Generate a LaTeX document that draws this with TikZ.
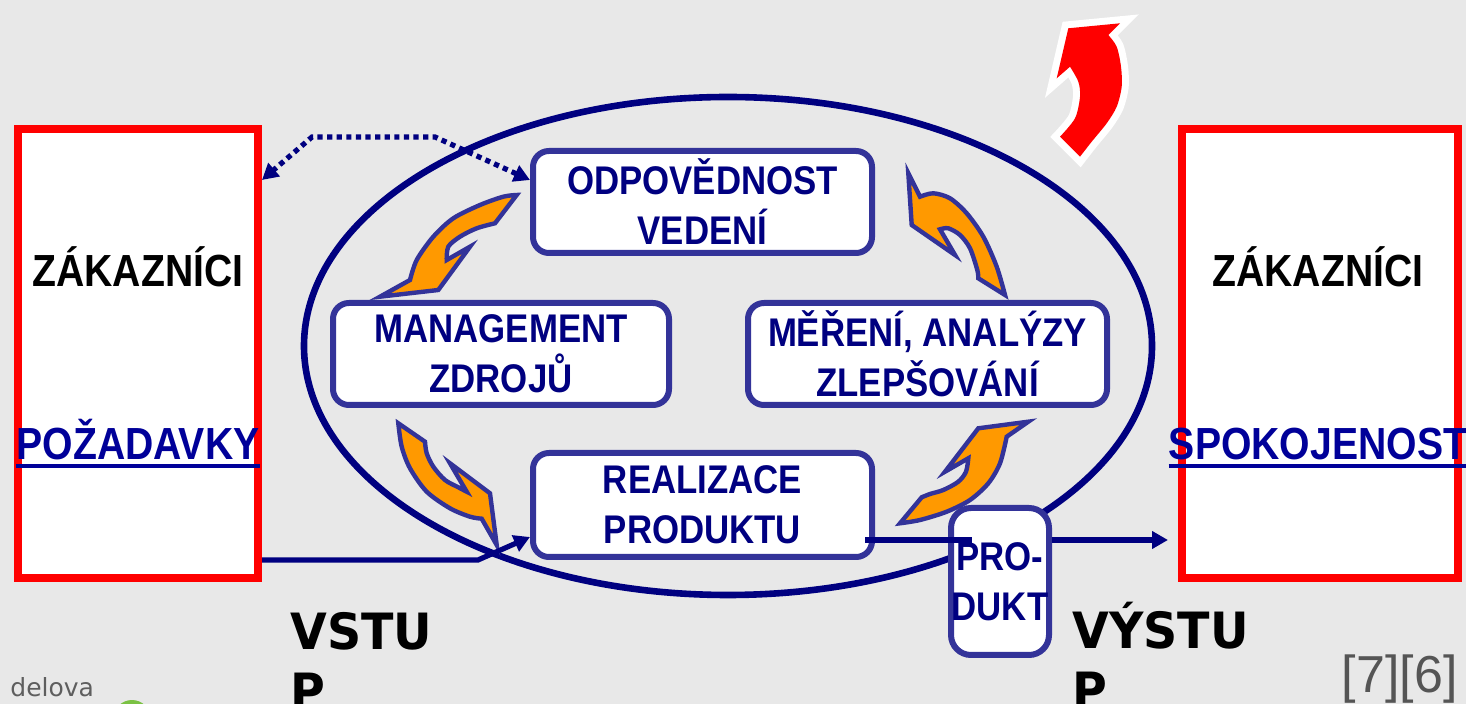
\documentclass[tikz,border=0pt]{standalone}
\usepackage{fontspec}
\setmainfont{Liberation Sans}
\newfontfamily\narrowsans[FakeStretch=0.87]{Liberation Sans}
\newfontfamily\blacksans[FakeStretch=0.95]{DejaVu Sans}
\newfontfamily\logosans{DejaVu Sans}
\usepackage{xcolor}
\usetikzlibrary{positioning, arrows.meta}

\definecolor{bg}{HTML}{E8E8E8}
\definecolor{navy}{HTML}{000080}
\definecolor{boxline}{HTML}{333399}
\definecolor{linkblue}{HTML}{000099}
\definecolor{turnfill}{HTML}{FF9900}
\definecolor{citegray}{HTML}{555555}
\definecolor{logogray}{HTML}{5E5E5E}
\definecolor{logogreen}{HTML}{7AC143}

\begin{document}
\begin{tikzpicture}[x=0.5pt, y=-0.5pt,
                  >={Triangle[length=8pt,width=8.5pt]},
                  stage/.style={rectangle,rounded corners=8pt,draw=boxline,line width=3pt,fill=white,
                    text=navy,align=center,inner sep=0pt,
                    font=\narrowsans\bfseries\fontsize{20pt}{25pt}\selectfont},
                  party/.style={rectangle,draw=red,line width=4pt,fill=white,
                    minimum height=224.5pt},
                  partytext/.style={inner sep=0pt,anchor=base,
                    font=\narrowsans\bfseries\fontsize{22.5pt}{27pt}\selectfont},
                  iotext/.style={inner sep=0pt,anchor=north west,align=left,
                    font=\blacksans\bfseries\fontsize{25pt}{30pt}\selectfont},
                  flow/.style={draw=navy,line width=2.6pt},
                  feedback/.style={<->,draw=navy,line width=2.6pt,dash pattern=on 2.6pt off 2.2pt},
                  turn/.style={fill=turnfill,draw=boxline,line width=2.2pt,line join=miter}
                  ]
  \useasboundingbox (0,0) rectangle (1466,704);
  \clip (0,0) rectangle (1466,704);
  \fill[bg] (0,0) rectangle (1466,704);

  \draw[navy, line width=3.3pt] (728,346) ellipse [x radius=424, y radius=249];

  \node[party, minimum width=120pt] (zakL) at (138,353.5) {};
  \node[party, minimum width=138pt] (zakR) at (1320,353.5) {};

  \node[stage, minimum width=169.5pt, minimum height=51pt] (odp) at (702.5,202) {ODPOVĚDNOST\\VEDENÍ};
  \node[stage, minimum width=169.5pt, minimum height=52pt, below=97pt of odp] (real) {REALIZACE\\PRODUKTU};
  \node[stage, minimum width=168pt, minimum height=51pt] (mgmt) at (501,354) {MANAGEMENT\\ZDROJŮ};
  \node[stage, minimum width=179.5pt, minimum height=51pt] (mer) at (927.5,354) {MĚŘENÍ, ANALÝZY\\ZLEPŠOVÁNÍ};
  \node[stage, minimum width=49pt, minimum height=73.5pt, rounded corners=10pt] (prod) at (1000,581.5) {PRO-\\DUKT};

  \filldraw[turn] plot[smooth] coordinates {(516.7,195) (503.3,196.7) (480,205) (453.3,218.3) (433.3,236.7) (416.7,260) (410,280)}
    -- (380,296.7) -- (438.3,290) -- (470,246.7) -- (446.7,260)
    -- plot[smooth] coordinates {(446.7,260) (448.3,246.7) (460,236.7) (476.7,228.3) (495,223.3)} -- cycle;
  \filldraw[turn] plot[smooth] coordinates {(398.3,423.3) (401.7,446.7) (410,468.3) (426.7,491.7) (450,508.3) (470,516.7) (481.7,518.7)}
    -- (496.7,545) -- (490,493.3) -- (450,463.3) -- (466.7,491.7)
    -- plot[smooth] coordinates {(466.7,491.7) (458.3,487.3) (445,480) (433.3,466.7) (426.7,453.3) (425,441.7)} -- cycle;
  \filldraw[turn] plot[smooth] coordinates {(900,523.3) (920,520) (946.7,511.7) (970,500) (988.3,483.3) (1000,463.3) (1006.7,436.7)}
    -- (1028.3,421.7) -- (978.3,428.3) -- (945,471.7) -- (968.3,458.3)
    -- plot[smooth] coordinates {(968.3,458.3) (966,471.7) (958.3,481.7) (943.3,490) (930,494) (921.7,497.3)} -- cycle;
  \filldraw[turn] plot[smooth] coordinates {(1005,295) (996.7,266.7) (983.3,236.7) (966.7,213.3) (950,198.3) (933.3,193.3) (920,196.7)}
    -- (908.3,173.3) -- (911.7,225) -- (955,255) -- (940,229.3)
    -- plot[smooth] coordinates {(940,229.3) (948.3,228.3) (960,235) (970,248.3) (977.3,270) (978.3,278.3)} -- cycle;

  \draw[feedback] ([yshift=11pt]odp.west) -- (435,137) -- (312,137) -- ([yshift=86.75pt]zakL.east);

  \draw[flow,->] (zakL.east |- real.south) -- (478,560) -- ([yshift=-16pt]real.west);
  \coordinate (outA) at ([shift={(-5pt,10pt)}]real.south east);
  \draw[flow] (outA) -- ([xshift=12pt]prod.west |- outA);
  \draw[flow,->] (prod.east |- outA) -- ([xshift=-5pt]zakR.west |- outA);

  \path[fill=red, preaction={draw=white,line width=7pt,line join=miter}]
    (1068.3,28.3) -- (1120,23.3) -- (1108.3,35)
    -- plot[smooth] coordinates {(1108.3,35) (1116.7,46.7) (1121,66.7) (1121.7,86.7) (1116.7,106.7) (1106.7,123.3) (1091.7,141.7) (1080,156.7)}
    -- (1060,136.7)
    -- plot[smooth] coordinates {(1060,136.7) (1075,118.3) (1080,96.7) (1078.3,81.7) (1070,66.7)}
    -- (1056.7,78.3) -- cycle;

  \node[partytext] (zakLt) at (138,287) {ZÁKAZNÍCI};
  \node[partytext, text=linkblue] (pozad) at (138,460) {POŽADAVKY};
  \draw[linkblue, line width=2.2pt] ([yshift=-3pt]pozad.base west) -- ([yshift=-3pt]pozad.base east);
  \node[partytext] (zakRt) at (1318,287) {ZÁKAZNÍCI};
  \node[partytext, text=linkblue] (spokoj) at (1318,460) {SPOKOJENOST};
  \draw[linkblue, line width=2.2pt] ([yshift=-3pt]spokoj.base west) -- ([yshift=-3pt]spokoj.base east);

  \node[iotext] (vstup) at (290,612) {VSTU\\P};
  \node[iotext] (vystup) at (1072,602) {VÝSTU\\P};

  \node[inner sep=0pt, anchor=base east, text=citegray, font=\fontsize{26pt}{30pt}\selectfont] (cite) at (1458,692) {[7][6]};
  \node[inner sep=0pt, anchor=base west, text=logogray, font=\logosans\fontsize{12.5pt}{15pt}\selectfont] (logo) at (10,697) {delova};
  \fill[logogreen] (132,718.5) circle [radius=18.5];
\end{tikzpicture}
\end{document}
